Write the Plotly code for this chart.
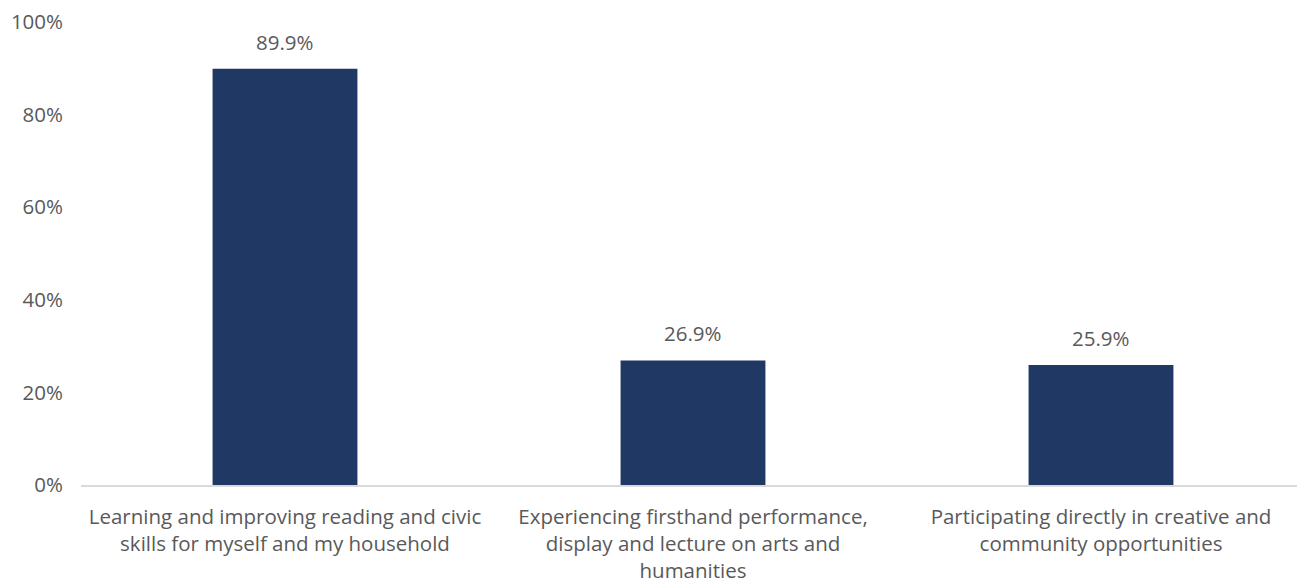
import plotly.graph_objects as go

categories = [
    "Learning and improving reading and civic<br>skills for myself and my household",
    "Experiencing firsthand performance,<br>display and lecture on arts and<br>humanities",
    "Participating directly in creative and<br>community opportunities",
]
values = [0.899, 0.269, 0.259]
labels = ["89.9%", "26.9%", "25.9%"]

FONT = "Open Sans"
GRAY = "#595959"
FS = 20.5

fig = go.Figure(go.Bar(
    x=categories, y=values,
    marker=dict(color="#203864", line=dict(width=0)),
    cliponaxis=False,
))
for c, v, t in zip(categories, values, labels):
    fig.add_annotation(x=c, y=v, text=t, showarrow=False, yanchor="bottom",
                       yshift=11, font=dict(family=FONT, size=FS, color=GRAY))
fig.update_layout(
    width=1297, height=575,
    margin=dict(l=73, r=0, t=14, b=98, autoexpand=False),
    plot_bgcolor="white", paper_bgcolor="white",
    bargap=0.645, showlegend=False,
    font=dict(family=FONT, size=FS, color=GRAY),
)
fig.update_yaxes(range=[0, 1], tickvals=[0, 0.2, 0.4, 0.6, 0.8, 1.0],
                 ticktext=["0%", "20%", "40%", "60%", "80%", "100%"],
                 showgrid=False, zeroline=False, showline=False, automargin=False,
                 tickfont=dict(family=FONT, size=FS, color=GRAY), ticks="",
                 ticklabelstandoff=17, ticklabeloverflow="allow")
fig.update_xaxes(showline=True, linecolor="#D9D9D9", linewidth=1.5, showgrid=False,
                 automargin=False,
                 tickfont=dict(family=FONT, size=FS, color=GRAY), ticks="", tickangle=0,
                 ticklabelstandoff=13)
fig.write_html("out.html")
